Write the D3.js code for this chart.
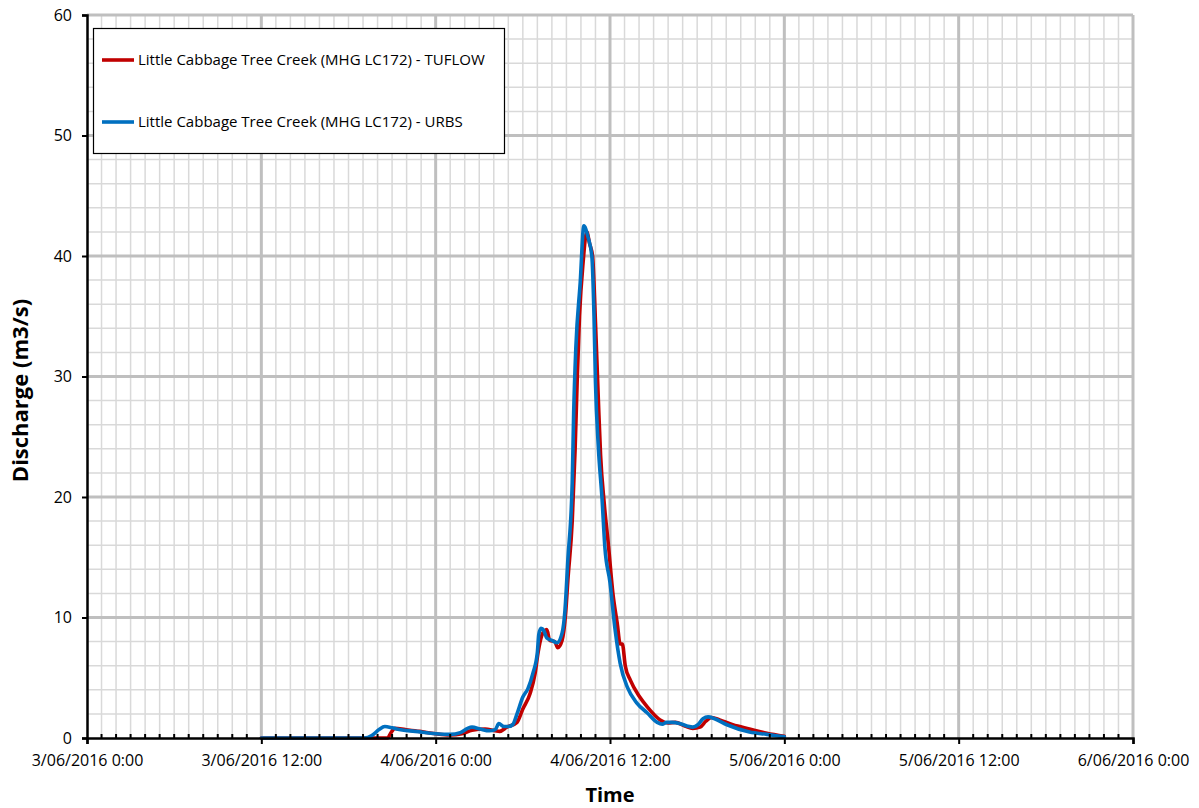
<!DOCTYPE html>
<html>
<head>
<meta charset="utf-8">
<script src="https://cdn.jsdelivr.net/npm/d3@7"></script>
<style>
  html, body { margin: 0; padding: 0; background: #fff; }
  svg { display: block; font-family: "Open Sans", "Liberation Sans", sans-serif; }
</style>
</head>
<body>
<svg id="chart" width="1199" height="808"></svg>
<script>
// Hydrographs, Little Cabbage Tree Creek (MHG LC172)
// Times are hours after 3/06/2016 0:00, discharge in m3/s.
const startDate = new Date(2016, 5, 3, 0, 0);

const tuflowHours = [12, 20.7, 20.9, 21.2, 21.9, 22.9, 24.0, 25.0, 25.8, 26.5, 27.4, 28.1, 28.4, 28.9,
  29.6, 30.0, 30.5, 30.85, 31.05, 31.3, 31.5, 31.65, 31.85, 32.2, 32.4, 32.7, 32.95, 33.1, 33.4,
  33.6, 33.75, 33.9, 34.15, 34.4, 34.6, 34.8, 35.0, 35.2, 35.35, 35.6, 35.9, 36.2, 36.5, 36.7,
  36.85, 37.05, 37.4, 38.05, 38.55, 39.45, 40.0, 40.5, 41.15, 41.7, 42.2, 42.6, 43.0, 43.55,
  44.45, 45.6, 46.8, 48];
const tuflowFlow = [0, 0, 0.4, 0.8, 0.7, 0.55, 0.35, 0.25, 0.35, 0.65, 0.75, 0.6, 0.55, 0.9,
  1.3, 2.4, 3.7, 5.4, 7.1, 8.5, 8.9, 9.0, 8.1, 8.0, 7.5, 8.1, 10.4, 13.1, 18,
  24, 30, 35, 39.5, 42.0, 41, 40, 34.5, 28, 23.5, 19.5, 15.9, 12, 9.5, 7.8,
  7.8, 6.0, 4.8, 3.4, 2.6, 1.5, 1.25, 1.3, 1.0, 0.8, 0.9, 1.4, 1.7, 1.5,
  1.1, 0.75, 0.4, 0.15];

const urbsHours = [12, 19.1, 19.6, 20.1, 20.5, 21.0, 21.5, 22.6, 24.0, 25.0, 25.7, 26.2, 26.5, 27.05,
  27.7, 28.1, 28.35, 28.7, 29.0, 29.3, 29.6, 30.0, 30.35, 30.7, 31.0, 31.1, 31.25, 31.45, 31.65,
  32.0, 32.35, 32.7, 32.9, 33.1, 33.4, 33.5, 33.65, 33.95, 34.2, 34.5, 34.75, 34.9, 35.0, 35.2,
  35.45, 35.65, 36.0, 36.35, 36.7, 37.2, 37.85, 38.55, 39.25, 39.6, 39.9, 40.3, 40.8, 41.3,
  41.7, 42.05, 42.4, 42.75, 43.2, 44.05, 45.6, 46.8, 48];
const urbsFlow = [0, 0, 0.2, 0.7, 0.95, 0.85, 0.7, 0.55, 0.35, 0.3, 0.45, 0.8, 0.9, 0.75,
  0.6, 0.7, 1.2, 0.95, 0.95, 1.1, 2.0, 3.4, 4.1, 5.4, 7.1, 8.6, 9.1, 8.9, 8.3,
  8.1, 7.9, 8.7, 10.6, 14.8, 21.2, 27, 32.4, 37.8, 42.5, 41.5, 40, 35, 29.5, 24.1,
  19.9, 15.8, 12.9, 9.0, 6.2, 4.2, 2.9, 2.1, 1.3, 1.15, 1.3, 1.3, 1.2, 1.0,
  0.9, 1.1, 1.6, 1.75, 1.6, 1.1, 0.5, 0.3, 0.1];

const seriesNames = [
  "Little Cabbage Tree Creek (MHG LC172) - TUFLOW",
  "Little Cabbage Tree Creek (MHG LC172) - URBS"
];
const seriesColors = ["#C00000", "#0070C0"];

const yTicks = [0, 10, 20, 30, 40, 50, 60];
const xTickHours = [0, 12, 24, 36, 48, 60, 72];
const xTickLabels = ["3/06/2016 0:00", "3/06/2016 12:00", "4/06/2016 0:00", "4/06/2016 12:00",
  "5/06/2016 0:00", "5/06/2016 12:00", "6/06/2016 0:00"];

const svg = d3.select("#chart");
const margin = { left: 87, right: 66, top: 15, bottom: 70 };
const W = 1199, H = 808;

const toDate = h => new Date(startDate.getTime() + h * 3600000);

const x = d3.scaleTime()
  .domain([toDate(0), toDate(72)])
  .range([margin.left, W - margin.right]);
const y = d3.scaleLinear()
  .domain([0, 60])
  .range([H - margin.bottom, margin.top]);

const g = svg.append("g");

// minor grid
const minorH = d3.range(0, 61, 2).filter(v => v % 10 !== 0);
const minorV = d3.range(0, 73, 1).filter(h => h % 12 !== 0);
g.selectAll(".mh").data(minorH).join("line")
  .attr("x1", x.range()[0]).attr("x2", x.range()[1])
  .attr("y1", d => y(d)).attr("y2", d => y(d))
  .attr("stroke", "#d9d9d9").attr("stroke-width", 1.5);
g.selectAll(".mv").data(minorV).join("line")
  .attr("x1", d => x(toDate(d))).attr("x2", d => x(toDate(d)))
  .attr("y1", y.range()[0]).attr("y2", y.range()[1])
  .attr("stroke", "#d9d9d9").attr("stroke-width", 1.5);

// major grid
g.selectAll(".Mh").data(yTicks.slice(1)).join("line")
  .attr("x1", x.range()[0]).attr("x2", x.range()[1])
  .attr("y1", d => y(d)).attr("y2", d => y(d))
  .attr("stroke", "#bfbfbf").attr("stroke-width", 3);
g.selectAll(".Mv").data(xTickHours.slice(1)).join("line")
  .attr("x1", d => x(toDate(d))).attr("x2", d => x(toDate(d)))
  .attr("y1", y.range()[0]).attr("y2", y.range()[1])
  .attr("stroke", "#bfbfbf").attr("stroke-width", 3);

// series
const line = d3.line()
  .x(d => x(toDate(d[0])))
  .y(d => y(d[1]))
  .curve(d3.curveMonotoneX);

const series = [
  d3.zip(tuflowHours, tuflowFlow),
  d3.zip(urbsHours, urbsFlow)
];
series.forEach((s, i) => {
  g.append("path").datum(s)
    .attr("d", line)
    .attr("fill", "none")
    .attr("stroke", seriesColors[i])
    .attr("stroke-width", 3.6)
    .attr("stroke-linejoin", "round")
    .attr("stroke-linecap", "round");
});

// y axis
const yAxis = d3.axisLeft(y).tickValues(yTicks).tickSize(5).tickPadding(10);
const ya = svg.append("g").attr("transform", `translate(${margin.left},0)`).call(yAxis);
ya.select(".domain").attr("stroke", "#000").attr("stroke-width", 2.5);
ya.selectAll(".tick line").attr("stroke", "#000").attr("stroke-width", 2);
ya.selectAll("text").attr("font-size", 16).attr("fill", "#000")
  .attr("font-family", "'Open Sans', sans-serif");

// x axis: major ticks below, minor ticks inside
const xAxis = d3.axisBottom(x)
  .tickValues(xTickHours.map(toDate))
  .tickFormat((d, i) => xTickLabels[i])
  .tickSize(6).tickPadding(11);
const xa = svg.append("g").attr("transform", `translate(0,${y(0)})`).call(xAxis);
xa.selectAll(".tick line").attr("stroke", "#000").attr("stroke-width", 2);
xa.selectAll("text").attr("font-size", 16).attr("fill", "#000")
  .attr("font-family", "'Open Sans', sans-serif");
xa.selectAll(".minor").data(minorV).join("line")
  .attr("x1", d => x(toDate(d))).attr("x2", d => x(toDate(d)))
  .attr("y1", 0).attr("y2", -4)
  .attr("stroke", "#000").attr("stroke-width", 2);
xa.select(".domain").attr("stroke", "#000").attr("stroke-width", 2.5).raise();

// axis titles
svg.append("text")
  .attr("transform", `translate(28,${(y(0) + y(60)) / 2 + 14}) rotate(-90)`)
  .attr("text-anchor", "middle")
  .attr("font-size", 22).attr("font-weight", "bold")
  .text("Discharge (m3/s)");
svg.append("text")
  .attr("x", (x.range()[0] + x.range()[1]) / 2).attr("y", 802)
  .attr("text-anchor", "middle")
  .attr("font-size", 20).attr("font-weight", "bold")
  .text("Time");

// legend
const lg = svg.append("g");
lg.append("rect")
  .attr("x", 93.5).attr("y", 28.5).attr("width", 411).attr("height", 125)
  .attr("fill", "#fff").attr("stroke", "#000").attr("stroke-width", 1.2);
const legendY = [60, 122];
seriesNames.forEach((name, i) => {
  lg.append("line")
    .attr("x1", 102).attr("x2", 134)
    .attr("y1", legendY[i]).attr("y2", legendY[i])
    .attr("stroke", seriesColors[i]).attr("stroke-width", 3.6);
  lg.append("text")
    .attr("x", 138).attr("y", legendY[i]).attr("dy", "0.35em")
    .attr("font-size", 15).attr("fill", "#000")
    .text(name);
});
</script>
</body>
</html>
